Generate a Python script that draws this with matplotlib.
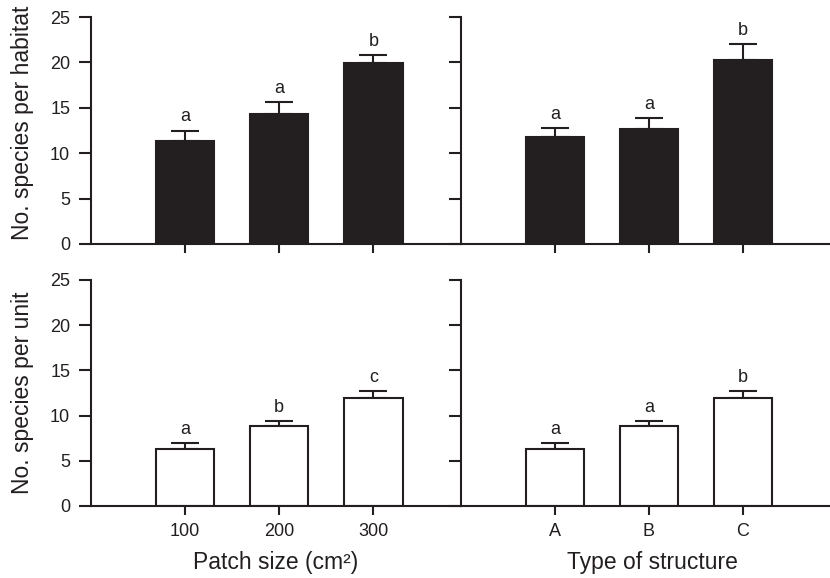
import matplotlib
matplotlib.use("Agg")
import matplotlib.pyplot as plt

plt.rcParams['font.family'] = ['Liberation Sans', 'DejaVu Sans']

# Data
patch_labels = ["100", "200", "300"]
struct_labels = ["A", "B", "C"]

habitat_patch_mean = [11.3, 14.3, 19.9]
habitat_patch_se = [1.2, 1.3, 0.9]
habitat_patch_letters = ["a", "a", "b"]

habitat_struct_mean = [11.8, 12.7, 20.3]
habitat_struct_se = [0.95, 1.2, 1.7]
habitat_struct_letters = ["a", "a", "b"]

unit_patch_mean = [6.35, 8.8, 11.9]
unit_patch_se = [0.6, 0.6, 0.85]
unit_patch_letters = ["a", "b", "c"]

unit_struct_mean = [6.35, 8.8, 11.9]
unit_struct_se = [0.6, 0.6, 0.85]
unit_struct_letters = ["a", "a", "b"]

INK = "#231f20"
LW = 1.5
W, H = 830, 578

fig = plt.figure(figsize=(W / 100, H / 100), dpi=100)

def frac_rect(x0, x1, ytop, ybot):
    return [x0 / W, 1 - ybot / H, (x1 - x0) / W, (ybot - ytop) / H]

ax_tl = fig.add_axes(frac_rect(91, 461, 17, 244))
ax_tr = fig.add_axes(frac_rect(461, 830, 17, 244))
ax_bl = fig.add_axes(frac_rect(91, 461, 280, 506))
ax_br = fig.add_axes(frac_rect(461, 830, 280, 506))

def draw(ax, means, ses, letters, filled, xlabels, show_ytl):
    pos = [1, 2, 3]
    ax.bar(pos, means, width=0.62, color=INK if filled else "white",
           edgecolor=INK, linewidth=LW, zorder=2)
    ax.errorbar(pos, means, yerr=[[0] * len(ses), ses], fmt="none",
                ecolor=INK, elinewidth=LW, capsize=10, capthick=LW, zorder=1)
    for p, m, s, l in zip(pos, means, ses, letters):
        ax.annotate(l, xy=(p, m + s), xytext=(0, 6.5), textcoords="offset points",
                    ha="center", va="baseline", fontsize=13, color=INK)
    ax.set_xlim(0, 3.93)
    ax.set_ylim(0, 25)
    ax.set_yticks([0, 5, 10, 15, 20, 25])
    ax.set_xticks(pos)
    if xlabels is None:
        ax.set_xticklabels([])
    else:
        ax.set_xticklabels(xlabels)
    if not show_ytl:
        ax.set_yticklabels([])
    for s in ["top", "right"]:
        ax.spines[s].set_visible(False)
    for s in ["left", "bottom"]:
        ax.spines[s].set_linewidth(LW)
        ax.spines[s].set_color(INK)
    ax.tick_params(axis="y", direction="out", length=9, width=LW, color=INK,
                   labelsize=13, labelcolor=INK, pad=6)
    ax.tick_params(axis="x", direction="out", length=6.5, width=LW, color=INK,
                   labelsize=13, labelcolor=INK, pad=5.5)
    ax.set_facecolor("none")

draw(ax_tl, habitat_patch_mean, habitat_patch_se, habitat_patch_letters, True, None, True)
draw(ax_tr, habitat_struct_mean, habitat_struct_se, habitat_struct_letters, True, None, False)
draw(ax_bl, unit_patch_mean, unit_patch_se, unit_patch_letters, False, patch_labels, True)
draw(ax_br, unit_struct_mean, unit_struct_se, unit_struct_letters, False, struct_labels, False)

ax_tl.set_ylabel("No. species per habitat", fontsize=16.5, color=INK)
ax_tl.yaxis.set_label_coords(-0.155, 0.535)
ax_bl.set_ylabel("No. species per unit", fontsize=16.5, color=INK)
ax_bl.yaxis.set_label_coords(-0.155, 0.5)

ax_bl.set_xlabel("Patch size (cm²)", fontsize=16.5, color=INK)
ax_bl.xaxis.set_label_coords(0.5, -0.2)
ax_br.set_xlabel("Type of structure", fontsize=16.5, color=INK)
ax_br.xaxis.set_label_coords(0.518, -0.2)

fig.savefig("out.png", dpi=100)
